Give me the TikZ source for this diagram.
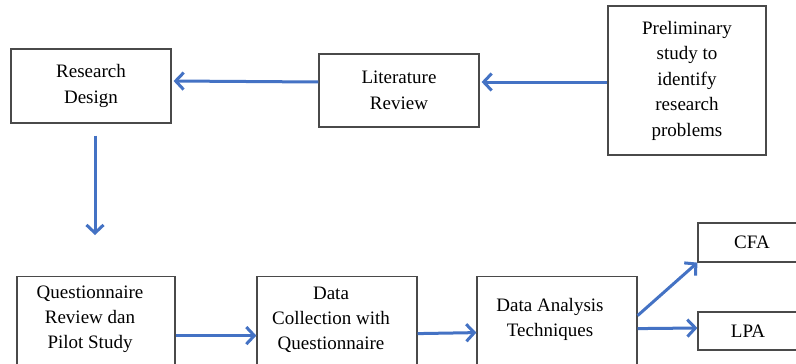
\documentclass[tikz,border=0pt]{standalone}
\usepackage{fontspec}
\setmainfont{Liberation Serif}
\usetikzlibrary{arrows.meta}
\definecolor{arrblue}{HTML}{4472C4}
\definecolor{boxgray}{HTML}{4A4A4A}
\begin{document}
\begin{tikzpicture}[x=1pt,y=-1pt,
  box/.style={draw=boxgray,line width=1.2pt,rectangle,inner sep=0pt,align=center,
    font=\fontsize{19}{25.5}\selectfont},
  txt/.style={inner sep=0pt,align=center,font=\fontsize{19}{25}\selectfont},
  arr/.style={draw=arrblue,line width=3pt,-{Straight Barb[length=8pt,width=17pt]}}]
\clip (0,0) rectangle (796,364);
\fill[white] (0,0) rectangle (796,364);
% top row
\node[box,minimum width=160pt,minimum height=74pt] (rd) at (91,86) {Research\\Design};
\node[box,minimum width=160pt,minimum height=73pt] (lit) at (399,90.5) {Literature\\Review};
\node[box,minimum width=158pt,minimum height=149pt] (pre) at (687,80.5) {Preliminary\\study to\\identify\\research\\problems};
% bottom row (boxes cut by the lower edge)
\node[box,minimum width=158pt,minimum height=100pt,anchor=north] (q) at (96,276) {};
\node[txt] (qt) at (90,319.5) {Questionnaire\\Review dan\\Pilot Study};
\node[box,minimum width=160pt,minimum height=100pt,anchor=north] (dc) at (337,276) {};
\node[txt] (dct) at (331,319.5) {Data\\Collection with\\Questionnaire};
\node[box,minimum width=160pt,minimum height=100pt,anchor=north] (da) at (557,276) {};
\node[txt] (dat) at (550,319) {Data Analysis\\Techniques};
\node[box,minimum width=108pt,minimum height=39pt] (cfa) at (752,242.5) {CFA};
\node[box,minimum width=100pt,minimum height=38pt] (lpa) at (748,331) {LPA};
% connectors
\draw[arr] ([yshift=-1.5pt]pre.west) -- ([yshift=8.5pt,xshift=2pt]lit.east);
\draw[arr] ([yshift=8.5pt]lit.west) -- ([yshift=5pt,xshift=2pt]rd.east);
\draw[arr,shorten <=12pt,shorten >=41pt] ([xshift=4pt]rd.south) -- ([xshift=-1pt]q.north);
\draw[arr] ([yshift=-9pt]q.east) -- ([yshift=-9pt]dc.west);
\draw[arr] ([yshift=-7pt]dc.east) -- ([yshift=-6pt]da.west);
\draw[arr] ([yshift=11pt]da.east) -- (cfa.south west);
\draw[arr] ([yshift=-2pt]da.east) -- ([yshift=3pt]lpa.west);
\end{tikzpicture}
\end{document}
